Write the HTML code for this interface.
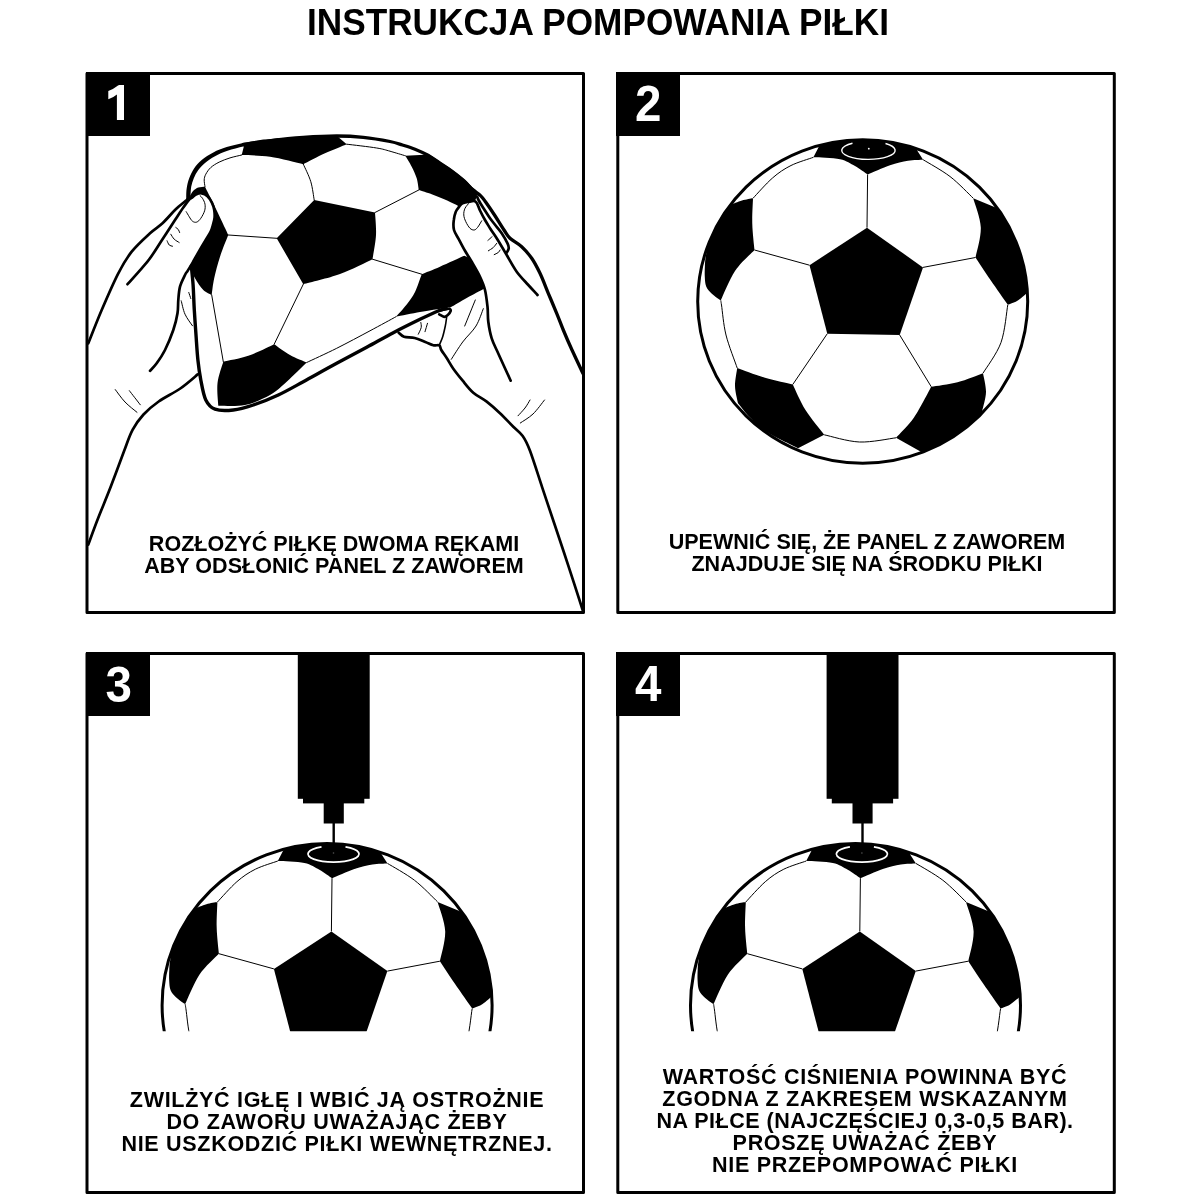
<!DOCTYPE html>
<html><head><meta charset="utf-8">
<style>
html,body{margin:0;padding:0;background:#fff;}
body{width:1200px;height:1200px;position:relative;overflow:hidden;font-family:"Liberation Sans",sans-serif;font-weight:bold;color:#000;}
#art{position:absolute;left:0;top:0;}
.t{position:absolute;white-space:nowrap;text-align:center;will-change:transform;}
#title{left:98.15px;width:1000px;top:2.5px;font-size:35.2px;line-height:40px;transform:scaleY(1.03);transform-origin:50% 80%;}
.cap{font-size:21.55px;line-height:21.35px;width:600px;transform:scaleY(1.04);transform-origin:50% 0;}
.ls{letter-spacing:0.68px;}
.num{position:absolute;width:64px;height:64px;color:#fff;font-size:47.5px;line-height:64px;text-align:center;transform:scaleY(1.06);transform-origin:50% 50%;}
.nb{position:absolute;width:64px;height:64px;background:#000;}
</style></head><body>
<div class="nb" style="left:85.5px;top:72px;"></div>
<div class="nb" style="left:616.3px;top:72px;"></div>
<div class="nb" style="left:85.5px;top:652px;"></div>
<div class="nb" style="left:616.3px;top:652px;"></div>
<svg id="art" width="1200" height="1200" viewBox="0 0 1200 1200">
<defs>
<clipPath id="ballclip"><ellipse cx="862.7" cy="301.5" rx="165" ry="161.7"/></clipPath>
<clipPath id="c3"><rect x="88" y="655" width="494" height="376.2"/></clipPath>
<clipPath id="c4"><rect x="619" y="655" width="494" height="376.2"/></clipPath>
<g id="ball">
<ellipse cx="862.7" cy="301.5" rx="165" ry="161.7" fill="#fff" stroke="none"/>
<g clip-path="url(#ballclip)" fill="#000" stroke="none">
<path d="M867,227.7 L923,267.4 L899.7,335 L827.3,333.7 L809.5,265.2 Z"/>
<path d="M813.4,157.3 L818.7,147.0 L840.0,125.0 L900.0,125.0 L916.7,149.8 L923.1,159.7 C920.6,159.9 913.5,159.8 908.0,160.8 C902.5,161.7 896.7,163.0 890.0,165.2 C883.3,167.5 871.3,173.0 867.6,174.5 C865.5,173.1 859.6,168.5 855.0,166.0 C850.4,163.5 846.9,160.7 840.0,159.2 C833.1,157.8 817.8,157.6 813.4,157.3 Z"/>
<path d="M753.0,198.3 C752.9,202.6 752.0,215.4 752.3,224.0 C752.5,232.6 754.1,245.7 754.5,250.0 C751.2,253.5 740.6,262.6 735.0,271.0 C729.4,279.4 723.2,295.4 720.8,300.3 C720.2,299.9 718.7,299.2 717.1,298.0 C715.5,296.8 713.1,295.2 711.3,293.3 C709.5,291.4 707.3,289.2 706.2,286.5 C705.1,283.8 705.0,280.4 704.8,277.0 C704.6,273.6 704.7,269.5 704.9,266.0 C705.1,262.5 705.0,261.1 705.9,256.0 C706.8,250.9 707.9,242.2 710.3,235.5 C712.6,228.8 716.6,221.1 720.0,216.0 C723.4,210.9 728.8,206.8 730.5,205.0 C732.4,204.2 738.2,201.6 742.0,200.5 C745.8,199.4 751.2,198.7 753.0,198.3 Z"/>
<path d="M973.2,198.2 L995.0,207.2 L1040.0,230.0 L1040.0,285.0 L1026.5,293.5 C1024.9,294.8 1020.1,299.1 1017.0,301.0 C1013.9,302.9 1009.3,304.1 1007.8,304.8 C1004.9,300.6 995.9,287.9 990.5,280.0 C985.1,272.1 978.0,261.2 975.5,257.5 C976.4,252.5 981.1,237.4 980.8,227.5 C980.4,217.6 974.5,203.1 973.2,198.2 Z"/>
<path d="M737.2,368.0 C741.9,369.6 755.8,375.0 765.0,377.8 C774.2,380.5 788.1,383.4 792.8,384.5 C794.9,388.8 800.2,401.6 805.5,410.0 C810.8,418.4 821.1,430.6 824.2,434.8 L798.0,448.2 C792.5,445.4 773.0,436.1 765.0,431.0 C757.0,425.9 754.5,422.1 750.0,417.5 C745.5,412.9 740.0,405.6 738.0,403.2 C737.5,400.4 735.1,391.9 735.0,386.0 C734.9,380.1 736.9,371.0 737.2,368.0 Z"/>
<path d="M931.2,386.8 C935.6,386.0 948.9,384.5 957.5,382.2 C966.1,380.0 978.8,374.8 983.0,373.2 C983.5,376.4 986.1,385.8 986.0,392.0 C985.9,398.2 982.9,407.6 982.2,410.8 L1000.0,420.0 L940.0,470.0 L920.0,451.2 L896.0,437.8 C899.0,434.4 908.1,426.0 914.0,417.5 C919.9,409.0 928.4,391.9 931.2,386.8 Z"/>
</g>
<g fill="none" stroke="#000" stroke-width="1.0">
<path d="M867.6,174.5 L867,227.7"/>
<path d="M923,267.4 L975.5,257.5"/>
<path d="M899.7,335 L931.25,386.75"/>
<path d="M827.3,333.7 L792.75,384.5"/>
<path d="M809.5,265.2 L754.5,250"/>
<path d="M753.0,198.3 C756.2,194.9 766.2,183.5 772.5,178.0 C778.8,172.5 784.2,168.9 791.0,165.5 C797.8,162.1 809.7,158.7 813.4,157.3"/>
<path d="M923.1,159.7 C927.6,162.5 941.6,170.1 950.0,176.5 C958.4,182.9 969.4,194.6 973.2,198.2"/>
<path d="M720.8,300.3 C720.9,301.1 720.6,299.2 721.5,305.0 C722.4,310.8 723.4,324.5 726.0,335.0 C728.6,345.5 735.4,362.5 737.2,368.0"/>
<path d="M824.2,434.8 C830.1,436.0 847.5,441.5 859.5,442.0 C871.5,442.5 889.9,438.5 896.0,437.8"/>
<path d="M1007.8,304.8 C1006.6,311.0 1005.1,331.1 1001.0,342.5 C996.9,353.9 986.0,368.1 983.0,373.2"/>
</g>
<ellipse cx="862.7" cy="301.5" rx="165" ry="161.7" fill="none" stroke="#000" stroke-width="3"/>
</g>
<g id="pump" fill="#000"><rect x="297.8" y="653" width="71.9" height="145.8"/><rect x="303" y="798" width="61.3" height="5.4"/><rect x="323.7" y="803" width="20.1" height="20.5"/><rect x="332.5" y="823" width="2.4" height="23"/></g>
</defs>
<g fill="none" stroke="#000" stroke-width="3" stroke-linejoin="round">
<rect x="87" y="73.5" width="496.5" height="539"/>
<rect x="617.8" y="73.5" width="496.5" height="539"/>
<rect x="87" y="653.5" width="496.5" height="539"/>
<rect x="617.8" y="653.5" width="496.5" height="539"/>
</g>
<g id="p1"><g fill="#000" stroke="none">
<path d="M186.5,201.0 C186.5,200.3 186.2,198.8 186.2,196.7 C186.3,194.6 186.2,191.4 186.7,188.3 C187.2,185.2 187.9,181.6 189.2,178.3 C190.4,175.0 192.1,171.4 194.2,168.3 C196.3,165.2 198.5,162.6 201.7,160.0 C204.9,157.4 209.1,154.7 213.3,152.5 C217.5,150.3 221.7,148.7 226.7,147.1 C231.7,145.5 237.2,144.2 243.3,142.9 C249.4,141.7 257.2,140.4 263.3,139.6 C269.4,138.8 277.2,138.2 280.0,137.9 L280.0,140.5 C277.2,140.8 269.3,141.3 263.3,142.3 C257.3,143.3 250.2,144.8 244.2,146.2 C238.2,147.7 232.4,149.1 227.5,150.8 C222.6,152.5 218.8,154.2 215.0,156.2 C211.2,158.3 207.8,160.6 205.0,162.9 C202.2,165.2 200.2,167.4 198.3,170.0 C196.4,172.6 194.9,175.5 193.8,178.3 C192.6,181.1 191.8,183.8 191.2,186.7 C190.7,189.6 190.7,193.6 190.4,195.8 C190.1,198.0 189.7,199.3 189.5,200.0 Z"/>
<path d="M244.2,145.0 L241.7,155.0 C246.4,155.3 259.7,155.2 270.0,156.7 C280.3,158.2 297.8,162.9 303.3,164.2 C306.9,162.4 317.8,156.6 325.0,153.3 C332.2,150.0 343.1,145.7 346.7,144.2 L336.7,135.8 C331.1,136.1 314.4,136.7 303.3,137.5 C292.2,138.3 279.9,139.6 270.0,140.8 C260.1,142.1 248.5,144.3 244.2,145.0 Z"/>
<path d="M314.2,200.0 L375.0,212.5 C375.2,216.2 376.4,227.2 376.0,235.0 C375.6,242.8 373.1,255.2 372.5,259.2 C367.1,261.7 351.5,269.8 340.0,274.0 C328.5,278.2 309.4,282.5 303.3,284.2 L276.7,238.3 L314.2,200.0 Z"/>
<path d="M205.0,186.7 C205.4,187.5 206.1,188.9 207.5,191.7 C208.9,194.5 211.4,199.3 213.3,203.3 C215.2,207.3 216.7,210.5 219.2,215.8 C221.7,221.1 226.8,231.8 228.3,235.0 C226.9,238.6 222.3,249.5 220.0,256.7 C217.7,263.9 215.6,271.9 214.2,278.3 C212.8,284.7 212.1,292.2 211.7,295.0 C210.3,294.2 206.1,292.8 203.3,290.0 C200.5,287.2 197.1,282.2 195.0,278.3 C192.9,274.4 191.5,268.6 190.8,266.7 C191.0,259.8 192.1,236.8 192.0,225.0 C191.9,213.2 190.3,200.7 190.0,195.8 C190.6,195.0 191.9,192.2 193.3,190.8 C194.7,189.4 196.4,188.2 198.3,187.5 C200.2,186.8 203.9,186.8 205.0,186.7 Z"/>
<path d="M405.4,155.8 L429.2,154.6 C431.0,155.8 436.1,159.1 440.0,161.7 C443.9,164.3 448.3,166.9 452.5,170.0 C456.7,173.1 461.5,176.9 465.0,180.0 C468.5,183.1 471.2,186.1 473.3,188.3 C475.4,190.5 476.8,192.2 477.5,193.0 L476.7,196.5 L474.2,203.5 L466.0,215.0 L459.2,206.7 C458.5,206.3 457.5,205.4 455.0,204.2 C452.5,202.9 448.1,200.9 444.2,199.2 C440.3,197.5 435.9,195.7 431.7,194.2 C427.5,192.7 420.9,190.7 418.8,190.0 C418.4,188.1 417.9,182.2 416.7,178.3 C415.5,174.4 413.6,170.4 411.7,166.7 C409.8,162.9 406.4,157.6 405.4,155.8 Z"/>
<path d="M421.7,274.2 C424.8,272.9 432.9,269.8 440.0,266.7 C447.1,263.6 460.2,257.6 464.2,255.8 L480.0,262.0 L490.0,289.0 L484.0,288.7 C481.1,290.2 472.2,294.9 466.7,298.0 C461.1,301.1 453.4,305.8 450.7,307.3 C448.5,307.6 442.4,308.5 437.3,309.3 C432.2,310.1 426.9,310.8 420.0,312.0 C413.1,313.2 400.0,315.9 396.0,316.7 C397.8,314.7 403.5,308.6 406.7,304.5 C409.9,300.4 412.5,297.1 415.0,292.0 C417.5,286.9 420.6,277.2 421.7,274.2 Z"/>
<path d="M223.3,361.7 C227.5,360.7 239.8,358.7 248.3,355.8 C256.8,352.9 269.9,346.1 274.2,344.2 C276.8,346.0 284.6,351.9 290.0,355.0 C295.4,358.1 303.9,361.2 306.7,362.5 C303.4,365.7 292.8,376.3 286.7,381.7 C280.6,387.1 276.9,391.1 270.0,395.0 C263.1,398.9 253.6,403.2 245.0,405.0 C236.4,406.8 222.8,405.7 218.3,405.8 C218.2,402.1 216.7,390.7 217.5,383.3 C218.3,375.9 222.3,365.3 223.3,361.7 Z"/>
</g>
<g fill="none" stroke="#000" stroke-width="1.0" stroke-linecap="round">
<path d="M205.0,186.7 C204.9,185.6 204.1,182.1 204.2,180.0 C204.3,177.9 204.7,176.3 205.8,174.2 C206.9,172.1 208.6,169.5 210.8,167.5 C213.0,165.5 216.0,163.7 219.2,162.1 C222.4,160.5 226.2,159.1 230.0,157.9 C233.8,156.7 239.8,155.5 241.7,155.0"/>
<path d="M314.2,200.0 C313.6,196.9 312.6,187.7 310.8,181.7 C309.0,175.7 304.6,167.1 303.3,164.2"/>
<path d="M375,212.5 L418.75,190"/>
<path d="M372.5,259.2 L421.7,274.2"/>
<path d="M303.3,284.2 L274.2,344.2"/>
<path d="M276.7,238.3 L228.3,235"/>
<path d="M346.7,144.2 C351.7,144.8 369.5,146.8 376.7,148.0 C383.9,149.2 385.2,149.9 390.0,151.2 C394.8,152.6 402.8,155.0 405.4,155.8"/>
<path d="M211.7,295 L223.3,361.7"/>
<path d="M306.7,362.5 C311.7,360.1 326.1,353.6 336.7,348.3 C347.2,343.0 360.1,336.1 370.0,330.8 C379.9,325.5 391.7,319.1 396.0,316.7"/>
</g>
<g fill="none" stroke="#000" stroke-width="1.6" stroke-linecap="round">
<path d="M439.3,345.0 C439.9,343.6 441.7,339.9 442.7,336.7 C443.7,333.5 444.6,329.3 445.3,326.0 C446.0,322.7 446.5,318.2 446.7,316.7"/>
</g>
<g fill="#fff" stroke="none">
<path d="M127.5,284.2 C129.9,281.6 137.9,272.6 141.7,268.3 C145.4,264.0 146.5,263.2 150.0,258.3 C153.5,253.5 158.3,245.6 162.5,239.2 C166.7,232.8 171.5,225.3 175.0,220.0 C178.5,214.7 180.9,210.9 183.3,207.5 C185.7,204.1 188.2,200.8 189.2,199.5 C189.6,199.2 190.4,198.8 191.5,198.0 C192.6,197.2 194.2,195.4 195.9,194.6 C197.6,193.8 199.8,193.0 201.7,193.3 C203.6,193.6 205.8,194.6 207.5,196.2 C209.2,197.8 210.8,200.3 211.9,202.6 C213.0,204.9 213.8,207.3 214.2,209.8 C214.6,212.3 214.8,215.1 214.6,217.5 C214.4,219.9 213.8,222.0 213.1,224.4 C212.4,226.8 212.0,229.0 210.7,231.7 C209.4,234.4 207.2,237.5 205.3,240.7 C203.4,243.8 201.5,247.0 199.4,250.7 C197.3,254.3 194.7,259.0 192.8,262.3 C190.9,265.6 189.1,268.5 187.8,270.6 C186.5,272.7 186.3,272.3 185.0,275.0 C183.7,277.7 181.1,282.5 180.0,286.7 C178.9,290.9 178.7,295.6 178.3,300.0 C177.9,304.4 178.3,308.3 177.5,313.3 C176.7,318.3 175.4,323.9 173.3,330.0 C171.2,336.1 167.8,344.4 165.0,350.0 C162.2,355.6 159.2,359.8 156.7,363.3 C154.2,366.8 151.1,369.6 150.0,370.8 Z"/>
<path d="M510.7,380.7 C508.7,376.3 501.8,361.3 498.6,354.2 C495.4,347.1 493.4,343.7 491.7,338.3 C490.0,332.9 489.0,327.0 488.3,321.7 C487.6,316.4 488.1,312.0 487.5,306.7 C486.9,301.4 486.2,295.0 485.0,290.0 C483.8,285.0 482.2,281.4 480.0,276.7 C477.8,272.0 474.2,266.0 471.7,261.7 C469.2,257.4 467.1,254.4 465.0,250.8 C462.9,247.2 461.0,243.5 459.2,240.0 C457.4,236.5 454.9,233.3 454.0,230.0 C453.1,226.7 453.4,223.1 453.8,220.0 C454.1,216.9 454.9,213.9 455.8,211.7 C456.7,209.5 458.1,208.1 459.2,206.7 C460.3,205.3 460.8,204.1 462.5,203.3 C464.2,202.5 467.0,202.0 469.2,201.7 C471.4,201.4 474.7,201.7 475.8,201.7 C476.5,203.2 478.5,207.4 480.0,210.5 C481.5,213.6 483.2,216.9 485.0,220.0 C486.8,223.1 488.6,225.9 490.5,229.0 C492.4,232.1 494.0,234.0 496.7,238.3 C499.4,242.6 503.4,249.4 506.7,255.0 C510.0,260.6 513.1,266.7 516.7,271.7 C520.3,276.7 524.8,281.1 528.3,285.0 C531.8,288.9 536.0,293.3 537.5,295.0 L537.5,380 Z"/>
</g>
<g fill="none" stroke="#000" stroke-width="2.7" stroke-linecap="round" stroke-linejoin="round">
<path d="M88.3,343.3 C90.5,337.8 96.7,321.7 101.7,310.0 C106.7,298.3 113.3,283.0 118.3,273.3 C123.3,263.6 126.4,258.4 131.7,251.7 C137.0,245.0 144.9,238.0 150.0,233.3 C155.1,228.6 158.3,227.2 162.5,223.3 C166.7,219.4 171.1,213.8 175.0,210.0 C178.9,206.2 183.7,202.6 185.8,200.8 C187.9,199.0 187.2,199.3 187.5,199.0"/>
<path d="M127.5,284.2 C129.9,281.6 137.9,272.6 141.7,268.3 C145.4,264.0 146.5,263.2 150.0,258.3 C153.5,253.5 158.3,245.6 162.5,239.2 C166.7,232.8 171.5,225.3 175.0,220.0 C178.5,214.7 180.9,210.9 183.3,207.5 C185.7,204.1 187.8,201.1 189.2,199.5 C190.6,197.9 190.4,198.8 191.5,198.0 C192.6,197.2 194.2,195.4 195.9,194.6 C197.6,193.8 199.8,193.0 201.7,193.3 C203.6,193.6 205.8,194.6 207.5,196.2 C209.2,197.8 210.8,200.3 211.9,202.6 C213.0,204.9 213.8,207.3 214.2,209.8 C214.6,212.3 214.8,215.1 214.6,217.5 C214.4,219.9 213.8,222.0 213.1,224.4 C212.4,226.8 212.0,229.0 210.7,231.7 C209.4,234.4 207.2,237.5 205.3,240.7 C203.4,243.8 201.5,247.0 199.4,250.7 C197.3,254.3 194.7,259.0 192.8,262.3 C190.9,265.6 189.1,268.5 187.8,270.6 C186.5,272.7 186.3,272.3 185.0,275.0 C183.7,277.7 181.1,282.5 180.0,286.7 C178.9,290.9 178.7,295.6 178.3,300.0 C177.9,304.4 178.3,308.3 177.5,313.3 C176.7,318.3 175.4,323.9 173.3,330.0 C171.2,336.1 167.8,344.4 165.0,350.0 C162.2,355.6 159.2,359.8 156.7,363.3 C154.2,366.8 151.1,369.6 150.0,370.8"/>
<path d="M197.7,374.4 C194.8,376.8 186.8,384.0 180.3,388.5 C173.8,393.0 164.8,397.2 158.7,401.5 C152.6,405.8 147.8,409.8 143.5,414.5 C139.2,419.2 135.9,423.6 132.7,429.7 C129.4,435.8 127.6,441.9 124.0,451.3 C120.4,460.7 115.3,474.8 111.0,486.0 C106.7,497.2 101.8,508.8 98.0,518.5 C94.2,528.2 89.9,540.2 88.3,544.5"/>
<path d="M477.1,196.7 C477.4,197.3 477.7,198.4 478.8,200.5 C479.9,202.6 482.1,206.0 484.0,209.0 C485.9,212.0 488.0,215.5 490.0,218.3 C492.0,221.1 494.1,223.5 496.0,226.0 C497.9,228.5 499.8,230.4 501.7,233.3 C503.6,236.2 506.3,240.8 507.5,243.3 C508.7,245.8 508.9,246.9 508.7,248.5 C508.5,250.1 506.9,252.2 506.5,253.0"/>
<path d="M510.7,380.7 C508.7,376.3 501.8,361.3 498.6,354.2 C495.4,347.1 493.4,343.7 491.7,338.3 C490.0,332.9 489.0,327.0 488.3,321.7 C487.6,316.4 488.1,312.0 487.5,306.7 C486.9,301.4 486.2,295.0 485.0,290.0 C483.8,285.0 482.2,281.4 480.0,276.7 C477.8,272.0 474.2,266.0 471.7,261.7 C469.2,257.4 467.1,254.4 465.0,250.8 C462.9,247.2 461.0,243.5 459.2,240.0 C457.4,236.5 454.9,233.3 454.0,230.0 C453.1,226.7 453.4,223.1 453.8,220.0 C454.1,216.9 454.9,213.9 455.8,211.7 C456.7,209.5 458.1,208.1 459.2,206.7 C460.3,205.3 460.8,204.1 462.5,203.3 C464.2,202.5 467.0,202.0 469.2,201.7 C471.4,201.4 474.0,200.2 475.8,201.7 C477.6,203.2 478.5,207.4 480.0,210.5 C481.5,213.6 483.2,216.9 485.0,220.0 C486.8,223.1 488.6,225.9 490.5,229.0 C492.4,232.1 494.0,234.0 496.7,238.3 C499.4,242.6 503.4,249.4 506.7,255.0 C510.0,260.6 513.1,266.7 516.7,271.7 C520.3,276.7 524.8,281.1 528.3,285.0 C531.8,288.9 536.0,293.3 537.5,295.0"/>
<path d="M398.7,332.7 C399.6,333.4 401.3,335.8 404.0,336.7 C406.7,337.6 411.1,337.1 414.7,338.0 C418.2,338.9 422.2,340.8 425.3,342.0 C428.4,343.2 431.0,344.8 433.3,345.3 C435.6,345.9 438.0,344.5 439.3,345.3 C440.6,346.1 440.1,347.9 441.3,350.0 C442.5,352.1 444.7,354.9 446.7,358.0 C448.7,361.1 450.6,364.9 453.3,368.7 C456.0,372.5 459.4,376.7 462.7,380.7 C466.0,384.7 469.3,389.2 473.3,392.7 C477.3,396.2 482.2,398.3 486.7,401.7 C491.1,405.1 495.6,409.1 500.0,413.3 C504.4,417.5 509.5,422.9 513.3,426.7 C517.1,430.5 519.9,432.0 522.7,436.0 C525.5,440.0 526.8,442.3 530.0,450.8 C533.2,459.3 538.1,475.0 542.1,487.1 C546.1,499.2 549.8,510.0 554.2,523.3 C558.6,536.6 563.9,552.2 568.7,566.8 C573.5,581.4 580.6,603.6 583.0,611.0"/>
<path d="M438.7,310.9 C439.6,310.6 442.4,309.8 444.2,309.4 C446.0,309.0 448.4,308.5 449.5,308.8 C450.6,309.1 450.9,310.2 450.6,311.2 C450.3,312.2 448.9,314.1 447.8,315.0 C446.7,315.9 445.6,317.0 444.2,316.9 C442.8,316.8 440.0,314.8 439.2,314.4"/>
</g>
<g fill="none" stroke="#000" stroke-width="3.3" stroke-linecap="round" stroke-linejoin="round">
<path d="M243.3,144.5 C247.8,143.9 260.0,142.0 270.0,140.8 C280.0,139.6 292.2,138.3 303.3,137.5 C314.4,136.7 326.7,136.0 336.7,136.0 C346.7,136.0 354.4,136.4 363.3,137.3 C372.2,138.2 383.5,140.2 390.0,141.5 C396.5,142.8 398.3,143.7 402.5,145.0 C406.7,146.3 410.8,147.5 415.0,149.2 C419.2,150.9 423.5,152.8 427.5,155.0 C431.5,157.2 435.2,160.0 439.2,162.7 C443.2,165.4 447.5,167.9 451.7,171.0 C455.9,174.1 460.8,177.9 464.2,181.0 C467.6,184.1 469.7,186.9 472.4,189.3 C475.1,191.7 478.4,193.6 480.5,195.6 C482.6,197.6 483.0,198.3 485.3,201.5 C487.6,204.7 491.4,210.2 494.5,215.0 C497.6,219.8 501.4,226.1 504.0,230.0 C506.6,233.9 507.1,235.5 510.0,238.3 C513.0,241.1 518.1,243.4 521.7,246.7 C525.3,250.0 528.7,253.9 531.7,258.3 C534.8,262.7 537.2,267.5 540.0,273.3 C542.8,279.1 545.5,286.6 548.3,293.3 C551.1,300.0 554.2,307.2 556.7,313.3 C559.2,319.4 560.8,323.9 563.3,330.0 C565.8,336.1 568.7,342.8 572.0,350.0 C575.3,357.2 581.2,369.6 583.0,373.5"/>
</g>
<g fill="none" stroke="#000" stroke-width="3.4" stroke-linecap="round" stroke-linejoin="round">
<path d="M191.3,266.0 C191.6,269.2 192.6,277.7 193.1,285.0 C193.6,292.3 193.8,301.7 194.3,310.0 C194.8,318.3 195.4,326.7 196.0,335.0 C196.6,343.3 197.1,352.5 197.9,360.0 C198.7,367.5 199.5,373.3 200.8,380.0 C202.1,386.7 203.4,395.1 205.8,400.0 C208.2,404.9 210.4,407.5 215.0,409.2 C219.6,410.9 226.9,410.7 233.3,410.0 C239.7,409.3 245.8,407.5 253.3,405.0 C260.8,402.5 270.0,398.9 278.3,395.0 C286.6,391.1 293.6,387.0 303.3,381.7 C313.0,376.4 326.1,369.0 336.7,363.3 C347.3,357.6 357.3,352.4 366.7,347.3 C376.1,342.2 384.4,337.4 393.3,332.7 C402.2,328.0 412.4,323.0 420.0,319.3 C427.6,315.6 434.3,312.5 438.7,310.7 C443.1,308.9 445.2,309.0 446.5,308.7"/>
</g>
<g fill="none" stroke="#000" stroke-width="1.0" stroke-linecap="round">
<path d="M186.2,211.7 C186.7,212.5 188.2,215.1 189.2,216.7 C190.2,218.3 191.2,220.3 192.5,221.2 C193.8,222.2 195.3,222.6 196.7,222.1 C198.1,221.6 199.5,220.2 200.8,218.3 C202.1,216.4 203.9,213.2 204.6,210.8 C205.3,208.5 205.3,206.3 205.0,204.2 C204.7,202.1 203.3,199.7 202.5,198.3 C201.7,196.9 200.4,196.1 200.0,195.6"/>
<path d="M175.8,227.5 C176.2,227.8 177.7,228.7 178.3,229.5 C178.9,230.3 179.4,232.0 179.6,232.5"/>
<path d="M170.8,234.2 C171.4,235.0 172.8,237.8 174.2,239.2 C175.6,240.6 178.4,241.9 179.2,242.5"/>
<path d="M167.1,240.8 C167.4,241.5 168.3,244.1 169.2,245.0 C170.1,245.9 171.9,246.0 172.5,246.2"/>
<path d="M181.2,300.8 C181.9,303.0 183.1,310.0 185.0,314.2 C186.9,318.4 191.2,323.9 192.5,325.8"/>
<path d="M188.8,292.5 C189.1,293.5 190.5,297.5 190.8,298.5"/>
<path d="M115.3,389.6 C116.9,391.7 121.4,398.2 125.0,402.0 C128.6,405.8 135.0,410.6 137.0,412.3"/>
<path d="M129.4,390.7 C131.2,393.1 138.5,402.4 140.3,404.8"/>
<path d="M469.2,202.9 C468.5,203.8 465.9,206.3 465.0,208.3 C464.1,210.3 463.6,212.8 463.8,215.0 C463.9,217.2 464.8,219.5 465.8,221.7 C466.8,223.9 468.6,226.9 470.0,228.3 C471.4,229.7 472.9,230.1 474.2,230.0 C475.4,229.9 476.2,229.0 477.5,227.5 C478.8,226.0 481.0,221.9 481.7,220.8"/>
<path d="M487.9,240.4 C488.6,239.8 491.4,237.3 492.1,236.7"/>
<path d="M488.3,250.8 C489.1,250.2 491.9,248.8 493.3,247.5 C494.7,246.2 496.1,244.0 496.7,243.3"/>
<path d="M494.2,254.6 C494.9,254.2 497.3,253.3 498.3,252.5 C499.3,251.7 499.7,250.4 500.0,250.0"/>
<path d="M420.8,322.5 C420.9,323.3 421.6,325.6 421.2,327.5 C420.8,329.4 418.8,333.1 418.3,334.2"/>
<path d="M427.5,323.3 C427.1,324.7 425.4,330.3 425.0,331.7"/>
<path d="M475.3,300.0 C473.5,304.3 466.5,321.7 464.7,326.0"/>
<path d="M483.3,308.7 C482.1,311.6 479.4,320.4 476.0,326.0 C472.6,331.6 466.8,336.4 462.7,342.0 C458.6,347.6 453.2,356.4 451.3,359.3"/>
<path d="M530.0,400.0 C529.2,401.3 527.0,405.4 525.0,408.0 C523.0,410.6 519.2,414.5 518.0,415.8"/>
<path d="M544.5,400.0 C542.6,402.3 537.0,410.2 533.0,414.0 C529.0,417.8 522.4,421.5 520.3,423.0"/>
</g>
</g>
<use href="#ball"/>
<g clip-path="url(#c3)"><use href="#ball" transform="translate(-535.6,703.7)"/></g>
<use href="#pump"/>
<g clip-path="url(#c4)"><use href="#ball" transform="translate(-7.2000000000000455,703.7)"/></g>
<use href="#pump" transform="translate(528.8,0)"/>
<path d="M852.5,143.2 A26.7,9 0 1 0 885.5,143.5" fill="none" stroke="#fff" stroke-width="1.4"/><circle cx="868.8" cy="148.7" r="0.9" fill="#fff"/><path d="M321.5,846.9 A25.6,8.1 0 1 0 345.5,846.9" fill="none" stroke="#fff" stroke-width="1.8"/><circle cx="333.5" cy="853" r="0.8" fill="#555"/><path d="M849.9,846.9 A25.6,8.1 0 1 0 873.9,846.9" fill="none" stroke="#fff" stroke-width="1.8"/><circle cx="861.9" cy="853" r="0.8" fill="#555"/>
<path d="M108.3,97 L108.3,91 Q113,89.5 116.2,86.8 Q118.3,85 119.2,84.9 L124,84.9 L124,120 L116.9,120 L116.9,94.6 Q113.5,97.7 108.3,99.2 Z" fill="#fff" id="one"/>
</svg>
<div class="num" style="left:616.3px;top:72px;">2</div>
<div class="num" style="left:86.8px;top:653.2px;">3</div>
<div class="num" style="left:616.3px;top:652px;">4</div>
<div class="t" id="title">INSTRUKCJA POMPOWANIA PIŁKI</div>
<div class="t cap" id="c1" style="left:34.2px;top:532px;">ROZŁOŻYĆ PIŁKĘ DWOMA RĘKAMI<br>ABY ODSŁONIĆ PANEL Z ZAWOREM</div>
<div class="t cap" id="c2" style="left:567.4px;top:530.2px;">UPEWNIĆ SIĘ, ŻE PANEL Z ZAWOREM<br>ZNAJDUJE SIĘ NA ŚRODKU PIŁKI</div>
<div class="t cap ls" id="c3" style="left:36.85px;top:1088.3px;">ZWILŻYĆ IGŁĘ I WBIĆ JĄ OSTROŻNIE<br>DO ZAWORU UWAŻAJĄC ŻEBY<br>NIE USZKODZIĆ PIŁKI WEWNĘTRZNEJ.</div>
<div class="t cap ls" id="c4" style="left:565.45px;top:1064.7px;">WARTOŚĆ CIŚNIENIA POWINNA BYĆ<br>ZGODNA Z ZAKRESEM WSKAZANYM<br><span style="letter-spacing:0.48px">NA PIŁCE (NAJCZĘŚCIEJ 0,3-0,5 BAR).</span><br>PROSZĘ UWAŻAĆ ŻEBY<br>NIE PRZEPOMPOWAĆ PIŁKI</div>
</body></html>
